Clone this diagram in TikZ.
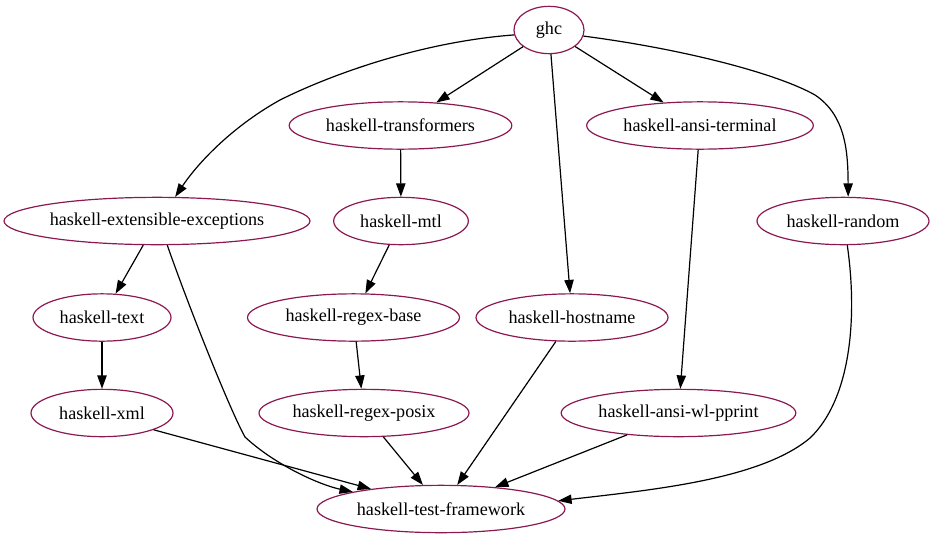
\documentclass[tikz,border=0pt]{standalone}
\usepackage{fontspec}
\setmainfont{Liberation Serif}
\usetikzlibrary{shapes.geometric,arrows.meta}
\definecolor{nodeborder}{RGB}{140,24,82}
\begin{document}
\begin{tikzpicture}[x=0.75pt,y=-0.75pt,
  pkg/.style={ellipse,draw=nodeborder,line width=0.9pt,minimum height=35.5pt,inner sep=0pt,font=\fontsize{13.6pt}{15pt}\selectfont},
  dep/.style={-{Triangle[length=10pt,width=7pt]},line width=0.9pt,black}]
\useasboundingbox (0,0) rectangle (937,539);
\node[pkg,minimum width=52.5pt] (ghc) at (549,30) {ghc};
\node[pkg,minimum width=167pt] (trans) at (400.5,125.5) {haskell-transformers};
\node[pkg,minimum width=170pt] (ansiterm) at (700,125.5) {haskell-ansi-terminal};
\node[pkg,minimum width=229.5pt] (extexc) at (157,221) {haskell-extensible-exceptions};
\node[pkg,minimum width=101pt] (mtl) at (401,221) {haskell-mtl};
\node[pkg,minimum width=129pt] (random) at (843,221) {haskell-random};
\node[pkg,minimum width=103.5pt] (text) at (102,317.5) {haskell-text};
\node[pkg,minimum width=159pt] (rbase) at (353.5,317.5) {haskell-regex-base};
\node[pkg,minimum width=144pt] (host) at (572,317.5) {haskell-hostname};
\node[pkg,minimum width=106.5pt] (xml) at (102,413) {haskell-xml};
\node[pkg,minimum width=157.5pt] (rposix) at (364,413) {haskell-regex-posix};
\node[pkg,minimum width=176pt] (wl) at (678.5,413) {haskell-ansi-wl-pprint};
\node[pkg,minimum width=186pt] (tf) at (441,509) {haskell-test-framework};

\draw[dep] (ghc.188) .. controls (420,42) and (330,75) .. (280,100) .. controls (235,125) and (200,160) .. (extexc.53);
\draw[dep] (ghc) -- (trans);
\draw[dep] (ghc) -- (host);
\draw[dep] (ghc) -- (ansiterm);
\draw[dep] (ghc.-10) .. controls (690,50) and (780,75) .. (815,95) .. controls (845,115) and (848,150) .. (random.78);
\draw[dep] (trans) -- (mtl);
\draw[dep] (ansiterm) -- (wl);
\draw[dep] (extexc) -- (text);
\draw[dep] (extexc.-67) .. controls (190,310) and (230,410) .. (245,437) .. controls (275,465) and (320,485) .. (tf.169);
\draw[dep] (mtl) -- (rbase);
\draw[dep] (random.-80) .. controls (858,320) and (850,400) .. (810,438) .. controls (760,480) and (650,490) .. (tf.4);
\draw[dep] (text) -- (xml);
\draw[dep] (rbase) -- (rposix);
\draw[dep] (host.-124) -- (tf.56);
\draw[dep] (xml.-18) -- (tf.164.5);
\draw[dep] (rposix.-51) -- (tf.127);
\draw[dep] (wl.-157.7) -- (tf.22.7);
\end{tikzpicture}
\end{document}
